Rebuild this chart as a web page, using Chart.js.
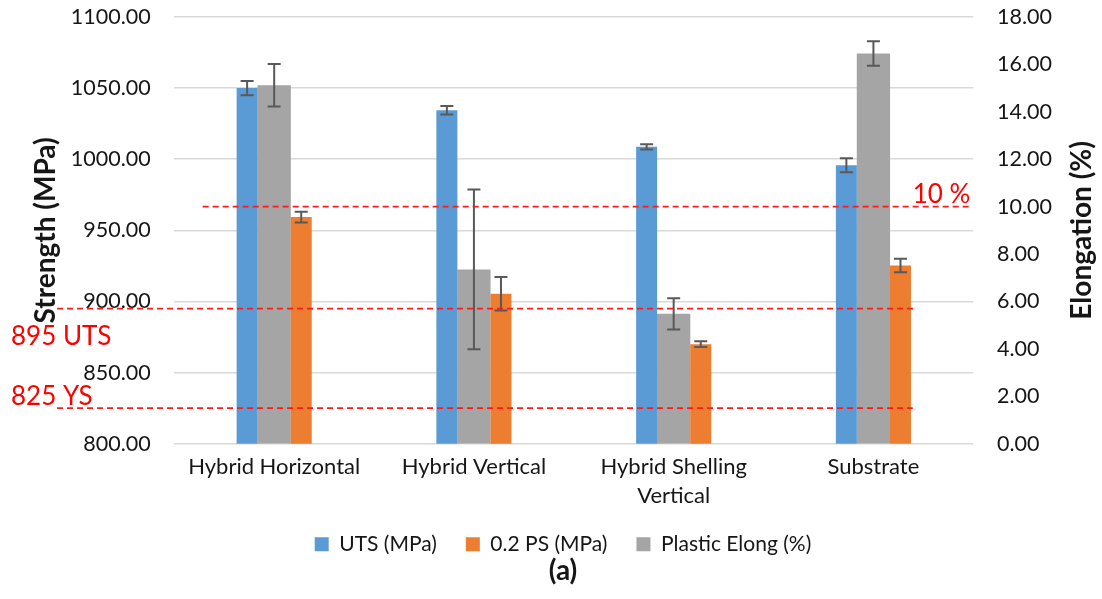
<!DOCTYPE html>
<html>
<head>
<meta charset="utf-8">
<script src="https://cdn.jsdelivr.net/npm/chart.js@4/dist/chart.umd.min.js"></script>
<style>
  html, body { margin: 0; padding: 0; background: #fff; }
  #wrap { width: 1102px; height: 599px; position: relative; }
</style>
</head>
<body>
<div id="wrap"><canvas id="c" width="1102" height="599"></canvas></div>
<script>
// Categories (multi-line labels are arrays)
const categories = ['Hybrid Horizontal', 'Hybrid Vertical', ['Hybrid Shelling', 'Vertical'], 'Substrate'];

// Series values with their error half-widths
const utsValues = [1050.0, 1034.4, 1008.7, 995.8];
const utsErrors = [5.0, 3.0, 1.8, 4.9];
const psValues = [959.3, 905.4, 870.0, 925.3];
const psErrors = [3.7, 11.8, 2.0, 4.8];
const elongValues = [15.12, 7.35, 5.48, 16.46];
const elongErrors = [0.9, 3.37, 0.66, 0.52];

// Requirement thresholds
const thresholdValues = [10, 895, 825];
const thresholdAxes = ['y1', 'y', 'y'];
const thresholdLabels = ['10 %', '895 UTS', '825 YS'];

// Axis ranges and tick steps
const strengthMin = 800, strengthMax = 1100, strengthStep = 50;
const elongMin = 0, elongMax = 18, elongStep = 2;

const FONT = 'Lato, "Noto Sans", sans-serif';
const TEXT = '#161616';

// Horizontal extent of each threshold line (category-index units) and label placement
const thresholdStyle = [
  { from: -0.358, to: 3.48, dy: -3.4, align: 'right', anchor: 'end' },
  { from: -1.087, to: 3.217, dy: 36, align: 'left', anchor: 'margin' },
  { from: -1.087, to: 3.197, dy: -2.8, align: 'left', anchor: 'margin' }
];

const errorBarPlugin = {
  id: 'errorBars',
  afterDatasetsDraw(chart) {
    const ctx = chart.ctx;
    ctx.save();
    ctx.strokeStyle = '#595959';
    ctx.lineWidth = 2;
    chart.data.datasets.forEach((ds, i) => {
      const meta = chart.getDatasetMeta(i);
      if (meta.hidden || !ds.errors) return;
      const yScale = chart.scales[meta.yAxisID];
      meta.data.forEach((bar, j) => {
        const v = ds.data[j], e = ds.errors[j];
        const yT = yScale.getPixelForValue(v + e);
        const yB = yScale.getPixelForValue(v - e);
        const x = bar.x, cap = 6.5;
        ctx.beginPath();
        ctx.moveTo(x, yT); ctx.lineTo(x, yB);
        ctx.moveTo(x - cap, yT); ctx.lineTo(x + cap, yT);
        ctx.moveTo(x - cap, yB); ctx.lineTo(x + cap, yB);
        ctx.stroke();
      });
    });
    ctx.restore();
  }
};

const thresholdPlugin = {
  id: 'thresholds',
  afterDatasetsDraw(chart) {
    const ctx = chart.ctx;
    const xs = chart.scales.x;
    ctx.save();
    thresholdValues.forEach((val, i) => {
      const st = thresholdStyle[i];
      const y = chart.scales[thresholdAxes[i]].getPixelForValue(val);
      const x0 = xs.getPixelForValue(st.from);
      const x1 = xs.getPixelForValue(st.to);
      ctx.strokeStyle = '#ff1a1a';
      ctx.lineWidth = 1.6;
      ctx.setLineDash([6, 4]);
      ctx.beginPath();
      ctx.moveTo(x0, y); ctx.lineTo(x1, y);
      ctx.stroke();
      ctx.setLineDash([]);
      ctx.fillStyle = '#ff0000';
      ctx.font = '26px ' + FONT;
      ctx.textBaseline = 'alphabetic';
      ctx.textAlign = st.align;
      const tx = st.anchor === 'end' ? x1 + 1 : 11;
      ctx.fillText(thresholdLabels[i], tx, y + st.dy);
    });
    ctx.restore();
  }
};

// Both axis titles read bottom-to-top
const axisTitlePlugin = {
  id: 'axisTitles',
  afterDraw(chart) {
    const ctx = chart.ctx;
    const a = chart.chartArea;
    const cy = (a.top + a.bottom) / 2;
    ctx.save();
    ctx.fillStyle = TEXT;
    ctx.font = 'bold 28px ' + FONT;
    ctx.textAlign = 'center';
    ctx.textBaseline = 'alphabetic';
    [[a.left - 119.3, 'Strength (MPa)'], [a.right + 118, 'Elongation (%)']].forEach(([x, t]) => {
      ctx.save();
      ctx.translate(x, cy);
      ctx.rotate(-Math.PI / 2);
      ctx.fillText(t, 0, 0);
      ctx.restore();
    });
    ctx.restore();
  }
};

const tickFont = { family: FONT, size: 21.5 };

new Chart(document.getElementById('c'), {
  type: 'bar',
  data: {
    labels: categories,
    datasets: [
      { label: 'UTS (MPa)', data: utsValues, errors: utsErrors, backgroundColor: '#5b9bd5',
        yAxisID: 'y', categoryPercentage: 0.5417, barPercentage: 0.388 },
      { label: '0.2 PS (MPa)', data: psValues, errors: psErrors, backgroundColor: '#ed7d31',
        yAxisID: 'y', categoryPercentage: 0.5417, barPercentage: 0.388 },
      { label: 'Plastic Elong (%)', data: elongValues, errors: elongErrors, backgroundColor: '#a5a5a5',
        yAxisID: 'y1', grouped: false, categoryPercentage: 1, barPercentage: 0.1667 }
    ]
  },
  options: {
    responsive: false,
    animation: false,
    layout: { padding: { top: 17, left: 24, right: 0, bottom: 4 } },
    scales: {
      x: {
        grid: { display: false, drawTicks: false },
        border: { display: false },
        ticks: { font: { family: FONT, size: 22, lineHeight: 1.3 }, color: TEXT, padding: 9, maxRotation: 0, autoSkip: false },
        afterFit(s) { s.height = 61.1; }
      },
      y: {
        position: 'left',
        min: strengthMin, max: strengthMax,
        grid: { color: '#d9d9d9', lineWidth: 1.6, drawTicks: true, tickLength: 23.6, tickColor: 'rgba(0,0,0,0)' },
        border: { display: false },
        ticks: { stepSize: strengthStep, font: tickFont, color: TEXT, padding: 0,
          callback: v => Number(v).toFixed(2) },
        afterFit(s) { s.width = 150.3; }
      },
      y1: {
        position: 'right',
        min: elongMin, max: elongMax,
        grid: { display: false, drawTicks: true, tickLength: 23.7, tickColor: 'rgba(0,0,0,0)' },
        border: { display: false },
        ticks: { stepSize: elongStep, font: tickFont, color: TEXT, padding: 0,
          callback: v => Number(v).toFixed(2) },
        afterFit(s) { s.width = 128.7; }
      }
    },
    plugins: {
      legend: {
        position: 'bottom',
        labels: { font: { family: FONT, size: 21 }, color: TEXT, boxWidth: 14, boxHeight: 14, padding: 29 }
      },
      title: {
        display: true, position: 'bottom', text: '(a)',
        font: { family: FONT, size: 28, weight: 'bold' }, color: TEXT,
        padding: { top: -10.6, bottom: 7.2 }
      },
      tooltip: { enabled: false }
    }
  },
  plugins: [errorBarPlugin, thresholdPlugin, axisTitlePlugin]
});
</script>
</body>
</html>
